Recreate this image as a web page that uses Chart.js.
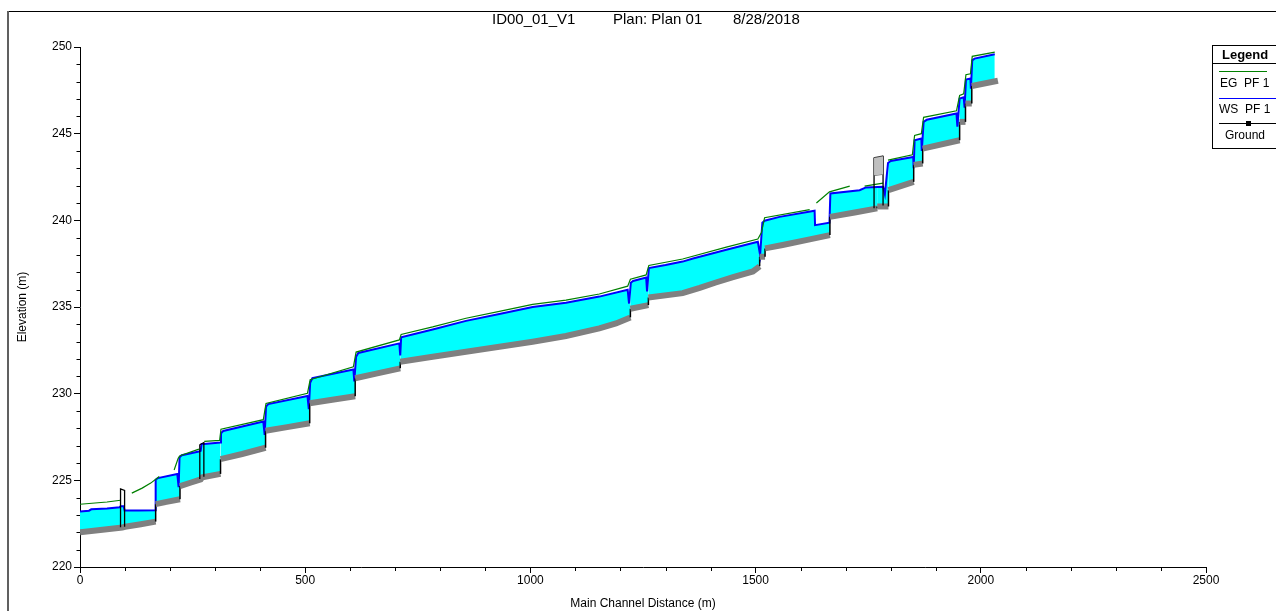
<!DOCTYPE html>
<html><head><meta charset="utf-8">
<script src="https://cdn.jsdelivr.net/npm/chart.js@4.4.1/dist/chart.umd.min.js"></script>
<style>html,body{margin:0;padding:0;background:#fff;overflow:hidden}canvas{display:block}</style>
</head><body>
<canvas id="c" width="1276" height="611"></canvas>
<script>
// ---- data (distance in m, elevation in m) ----
const groundDist = [0,45,94,100,135,168, 168,195,222, 222,245,268,272,312, 312,360,412, 412,460,510, 510,560,611, 611,660,711, 711,783,857,931,1005,1079,1153,1190,1222, 1222,1262, 1262,1338,1376,1410,1450,1494,1509, 1509,1521, 1521,1560,1620,1665, 1665,1720,1770, 1770,1795, 1795,1851, 1851,1871, 1871,1953, 1953,1966, 1966,1980, 1980,2038];
const groundElev = [222.0,222.13,222.28,222.32,222.47,222.62, 223.63,223.77,223.91, 224.67,224.86,225.05,225.18,225.37, 226.22,226.52,226.88, 227.86,228.07,228.29, 229.45,229.65,229.85, 230.89,231.17,231.46, 231.84,232.13,232.42,232.71,233.0,233.33,233.77,234.05,234.4, 234.9,235.11, 235.55,235.8,236.1,236.4,236.72,237.05,237.35, 237.9,237.9, 238.38,238.58,238.9,239.15, 240.2,240.45,240.69, 240.8,240.8, 241.74,242.22, 243.2,243.28, 244.14,244.62, 245.68,245.68, 246.74,246.74, 247.75,248.05];

const wsDist = [0,20,25,60,88,90,97,99,130,168, 168,173,216,219,221, 226,264,268,270,276,312, 313,318,407,410,413,418,505,508,511,516,607,609,613,618,709,711,713, 783,857,931,1005,1079,1153,1216,1219,1223,1228,1257,1259,1263,1300,1338,1361,1435,1505,1510,1515,1520,1553,1631,1632,1664,1666,1731,1745,1783,1787,1794,1800,1850,1851,1853,1868,1869,1873,1880,1946,1948,1953,1962,1964,1967,1977,1978,1981,1986,2031];
const wsElev = [223.2,223.25,223.33,223.38,223.45,223.5,223.5,223.26,223.26,223.28, 225.03,225.13,225.37,224.6,226.33, 226.45,226.66,226.7,227.1,227.1,227.18, 227.72,227.85,228.39,227.62,229.25,229.4,229.87,229.1,230.63,230.9,231.4,230.7,232.13,232.35,232.9,232.2,233.25, 233.7,234.2,234.6,235.0,235.25,235.6,236.0,235.2,236.4,236.5,236.7,235.9,237.25,237.42,237.62,237.8,238.3,238.76,238.0,239.86,239.98,240.2,240.55,239.72,239.86,241.55,241.74,241.9,241.94,241.5,243.31,243.42,243.66,243.0,244.62,244.72,244.0,245.68,245.8,246.16,245.4,247.03,247.1,246.5,248.12,248.18,247.6,249.23,249.33,249.58];

const egDist = [0,60,90,100,115,138,157,176,190,209,218,222,264,270,276,310,313,407,413,505,511,607,613,709,713,783,857,931,1005,1079,1153,1216,1222,1257,1263,1338,1435,1505,1513,1520,1620,1627,1635,1664,1709,1725,1742,1783,1788,1794,1848,1853,1868,1873,1946,1953,1962,1967,1977,1981,2031];
const egElev = [223.62,223.75,223.85,null,224.26,224.55,224.84,225.22,null,225.6,226.27,226.42,226.8,null,227.25,227.3,227.95,228.5,229.44,230.02,230.8,231.55,232.4,233.1,233.42,233.85,234.35,234.75,235.15,235.4,235.75,236.2,236.6,236.85,237.4,237.77,238.45,238.92,239.3,240.15,240.62,null,241.0,241.64,241.97,null,241.97,242.15,null,243.47,243.78,244.9,245.0,245.94,246.32,247.2,247.3,248.4,248.45,249.46,249.7];

// structures (bridge / culvert outlines)
const struct1Dist = [90,90,99,99];
const struct1Elev = [222.3,224.5,224.42,222.32];
const struct2Dist = [266,266,275,275];
const struct2Elev = [225.08,227.05,227.18,225.2];
const deckTopDist = [1763,1783];
const deckTopElev = [243.62,243.72];
const deckLowDist = [1763,1783];
const deckLowElev = [242.6,242.65];
const pierDist = [1763,1763,1763,1783,1783];
const pierElev = [243.62,240.69,null,243.72,240.85];

const xTicks = {min: 0, max: 2500, step: 500, minor: 100};
const yTicks = {min: 220, max: 250, step: 5, minor: 1};

const pts = (xs, ys) => xs.map((x, i) => ({x: x, y: ys[i]}));
const FONT = "'Liberation Sans', Arial, sans-serif";
Chart.defaults.font.family = FONT;
Chart.defaults.color = '#000';

const isVert = c => Math.abs(c.p0.x - c.p1.x) < 0.5;

const framePlugin = {
  id: 'frame',
  beforeDraw(chart) {
    const ctx = chart.ctx;
    ctx.save();
    ctx.fillStyle = '#fff';
    ctx.fillRect(0, 0, chart.width, chart.height);
    ctx.restore();
  },
  afterDraw(chart) {
    const ctx = chart.ctx;
    const xs = chart.scales.x, ys = chart.scales.y;
    ctx.save();
    // frame
    ctx.strokeStyle = '#000'; ctx.lineWidth = 1;
    ctx.beginPath(); ctx.moveTo(8, 11.5); ctx.lineTo(1276, 11.5); ctx.stroke();
    ctx.strokeStyle = '#606060'; ctx.lineWidth = 2;
    ctx.beginPath(); ctx.moveTo(8, 11); ctx.lineTo(8, 611); ctx.stroke();
    // minor ticks
    ctx.strokeStyle = '#000'; ctx.lineWidth = 1;
    ctx.beginPath();
    for (let v = yTicks.min; v <= yTicks.max; v += yTicks.minor) {
      if (v % yTicks.step === 0) continue;
      const py = Math.round(ys.getPixelForValue(v)) + 0.5;
      ctx.moveTo(xs.left - 3.5, py); ctx.lineTo(xs.left, py);
    }
    for (let v = xTicks.min; v <= xTicks.max; v += xTicks.minor) {
      if (v % xTicks.step === 0) continue;
      const px = Math.round(xs.getPixelForValue(v)) + 0.5;
      ctx.moveTo(px, ys.bottom); ctx.lineTo(px, ys.bottom + 4);
    }
    ctx.stroke();
    // title
    ctx.fillStyle = '#000';
    ctx.font = '15px ' + FONT;
    ctx.textBaseline = 'middle'; ctx.textAlign = 'left';
    ctx.fillText('ID00_01_V1', 492, 20);
    ctx.fillText('Plan: Plan 01', 613, 20);
    ctx.fillText('8/28/2018', 733, 20);
    // legend
    ctx.strokeStyle = '#000'; ctx.lineWidth = 1;
    ctx.strokeRect(1212.5, 45.5, 100, 103);
    ctx.beginPath(); ctx.moveTo(1212, 63.5); ctx.lineTo(1276, 63.5); ctx.stroke();
    ctx.font = 'bold 13px ' + FONT;
    ctx.fillText('Legend', 1222, 55);
    ctx.font = '12px ' + FONT;
    ctx.strokeStyle = '#008000'; ctx.lineWidth = 1;
    ctx.beginPath(); ctx.moveTo(1219, 71.5); ctx.lineTo(1267, 71.5); ctx.stroke();
    ctx.fillText('EG  PF 1', 1220, 84);
    ctx.strokeStyle = '#0000ff'; ctx.lineWidth = 1;
    ctx.beginPath(); ctx.moveTo(1219, 98.5); ctx.lineTo(1276, 98.5); ctx.stroke();
    ctx.fillText('WS  PF 1', 1219, 110);
    ctx.strokeStyle = '#000';
    ctx.beginPath(); ctx.moveTo(1219, 123.5); ctx.lineTo(1276, 123.5); ctx.stroke();
    ctx.fillRect(1246, 121, 5, 5);
    ctx.fillText('Ground', 1225, 136);
    ctx.restore();
  }
};

new Chart(document.getElementById('c'), {
  type: 'line',
  data: {
    datasets: [
      {label: 'EG PF 1', data: pts(egDist, egElev), borderColor: '#008000', borderWidth: 1.2, pointRadius: 0, fill: false, order: 1, spanGaps: false},
      {label: 'WS PF 1', data: pts(wsDist, wsElev), borderColor: '#0000ff', borderWidth: 2, backgroundColor: '#00ffff', pointRadius: 0, fill: 2, order: 3},
      {label: 'Ground', data: pts(groundDist, groundElev), borderColor: '#808080', borderWidth: 6, borderCapStyle: 'butt', borderJoinStyle: 'miter', pointRadius: 0, fill: false, order: 2,
        segment: {borderColor: c => isVert(c) ? '#000' : undefined, borderWidth: c => isVert(c) ? 1.5 : undefined}},
      {label: 's1', data: pts(struct1Dist, struct1Elev), borderColor: '#000', borderWidth: 1.3, pointRadius: 0, fill: false, order: 0},
      {label: 's2', data: pts(struct2Dist, struct2Elev), borderColor: '#000', borderWidth: 1.3, pointRadius: 0, fill: false, order: 0},
      {label: 'deckTop', data: pts(deckTopDist, deckTopElev), borderColor: '#404040', borderWidth: 1, backgroundColor: '#c0c0c0', pointRadius: 0, fill: 6, order: 0},
      {label: 'deckLow', data: pts(deckLowDist, deckLowElev), borderColor: '#404040', borderWidth: 1, pointRadius: 0, fill: false, order: 0},
      {label: 'piers', data: pts(pierDist, pierElev), borderColor: '#000', borderWidth: 1.3, pointRadius: 0, fill: false, order: 0, spanGaps: false}
    ]
  },
  options: {
    responsive: false,
    animation: false,
    events: [],
    layout: {padding: {left: 0, top: 47, right: 70, bottom: 0}},
    plugins: {legend: {display: false}, tooltip: {enabled: false}, title: {display: false}},
    elements: {line: {tension: 0}},
    scales: {
      x: {
        type: 'linear', min: xTicks.min, max: xTicks.max,
        ticks: {stepSize: xTicks.step, font: {size: 12}, color: '#000', padding: 0, maxRotation: 0, callback: v => String(v)},
        grid: {display: true, drawOnChartArea: false, drawTicks: true, tickLength: 6, color: '#000'},
        border: {display: true, color: '#000', width: 1},
        title: {display: true, text: 'Main Channel Distance (m)', font: {size: 12}, color: '#000', padding: {top: 0, bottom: 0}},
        afterFit: s => { s.height = 44; }
      },
      y: {
        type: 'linear', min: yTicks.min, max: yTicks.max,
        ticks: {stepSize: yTicks.step, font: {size: 12}, color: '#000', padding: 2, callback: v => String(v)},
        grid: {display: true, drawOnChartArea: false, drawTicks: true, tickLength: 6, color: '#000'},
        border: {display: true, color: '#000', width: 1},
        title: {display: true, text: 'Elevation (m)', font: {size: 12}, color: '#000', padding: {top: 15, bottom: 0}},
        afterFit: s => { s.width = 80; }
      }
    }
  },
  plugins: [framePlugin]
});
</script>
</body></html>
